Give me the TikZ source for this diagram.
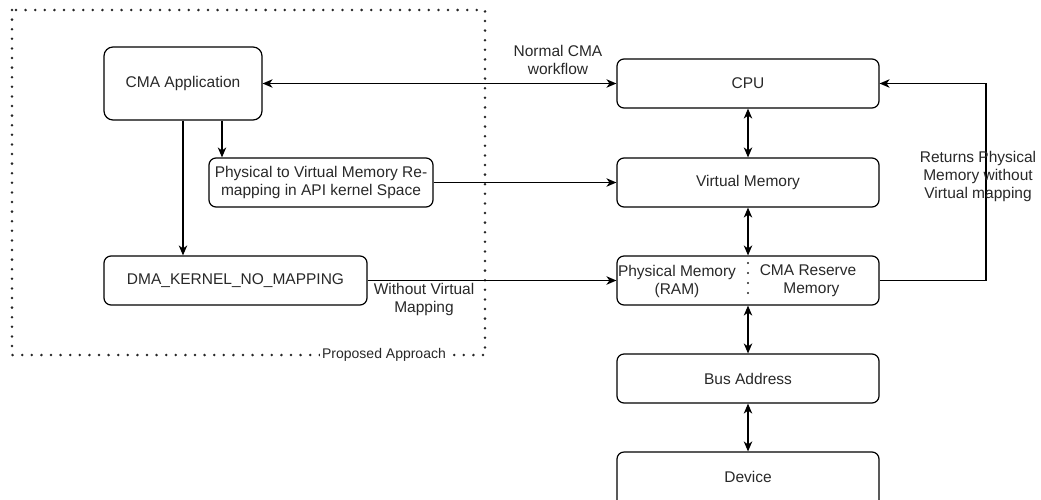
\documentclass[tikz,border=0pt]{standalone}
\usepackage{fontspec}
\setmainfont{Liberation Sans}
\usetikzlibrary{arrows.meta}
\definecolor{txt}{RGB}{40,40,40}
\tikzset{
  box/.style={draw, rounded corners=7pt, line width=1.2pt, align=center, inner sep=0pt,
    text=txt, font=\fontsize{15.5}{18}\selectfont},
  lbl/.style={align=center, inner sep=0pt, text=txt, font=\fontsize{15.5}{18}\selectfont},
  arr/.style={line width=1.2pt, -{Stealth[length=10pt,width=8.5pt,inset=3pt]}},
  darr/.style={line width=1.2pt, {Stealth[length=10pt,width=8.5pt,inset=3pt]}-{Stealth[length=10pt,width=8.5pt,inset=3pt]}},
  dots/.style={line width=2.8pt, line cap=round, dash pattern=on 0pt off 9.6pt, draw=black!85}
}
\begin{document}
\begin{tikzpicture}[x=1pt,y=-1pt]
\useasboundingbox (0,0) rectangle (1041,499);
% proposed approach region
\draw[dots] (12,10) rectangle (485,355);
\node[lbl, fill=white, inner xsep=2pt, inner ysep=1pt, font=\fontsize{14}{16}\selectfont] (prop) at (384,355) {Proposed Approach};
% left nodes
\node[box, minimum width=158pt, minimum height=73pt, rounded corners=9pt] (app) at (183,83.5) {CMA Application};
\node[box, minimum width=224pt, minimum height=49pt] (remap) at (321,182.5) {Physical to Virtual Memory Re-\\mapping in API kernel Space};
\node[box, minimum width=263pt, minimum height=49pt] (dma) at (235.5,280.5) {DMA\_KERNEL\_NO\_MAPPING};
% right column
\node[box, minimum width=262pt, minimum height=49pt] (cpu) at (748,83.5) {CPU};
\node[box, minimum width=262pt, minimum height=49pt] (vm) at (748,182.5) {Virtual Memory};
\node[box, minimum width=262pt, minimum height=49pt] (pm) at (748,280.5) {};
\node[box, minimum width=262pt, minimum height=49pt] (bus) at (748,378.5) {Bus Address};
\node[box, minimum width=262pt, minimum height=60pt] (dev) at (748,482) {};
\node[lbl] (devl) at (748,476.5) {Device};
\node[lbl] (pml) at (677,281) {Physical Memory\\(RAM)};
\node[lbl] (pmr) at (808,281) {CMA Reserve\\\hphantom{ii}Memory};
\draw[line width=2.4pt, line cap=round, dash pattern=on 0pt off 10pt, draw=black!85] (748,263) -- (748,294);
% connectors
\draw[darr] (app.east) -- (cpu.west);
\node[lbl] (l1) at (558,60) {Normal CMA\\workflow};
\draw[arr] ([xshift=39pt]app.south) -- ([xshift=39pt]app.south |- remap.north);
\draw[arr] (app.south) -- (app.south |- dma.north);
\draw[arr] (remap.east) -- (vm.west);
\draw[arr] (dma.east) -- (pm.west);
\node[lbl] (l2) at (424,299) {Without Virtual\\Mapping};
\draw[darr] (cpu.south) -- (vm.north);
\draw[darr] (vm.south) -- (pm.north);
\draw[darr] (pm.south) -- (bus.north);
\draw[darr] (bus.south) -- (dev.north);
\coordinate (ret) at (986,280.5);
\draw[arr] (pm.east) -- (ret) |- (cpu.east);
\node[lbl] (l3) at (978,176) {Returns Physical\\Memory without\\Virtual mapping};
\end{tikzpicture}
\end{document}
